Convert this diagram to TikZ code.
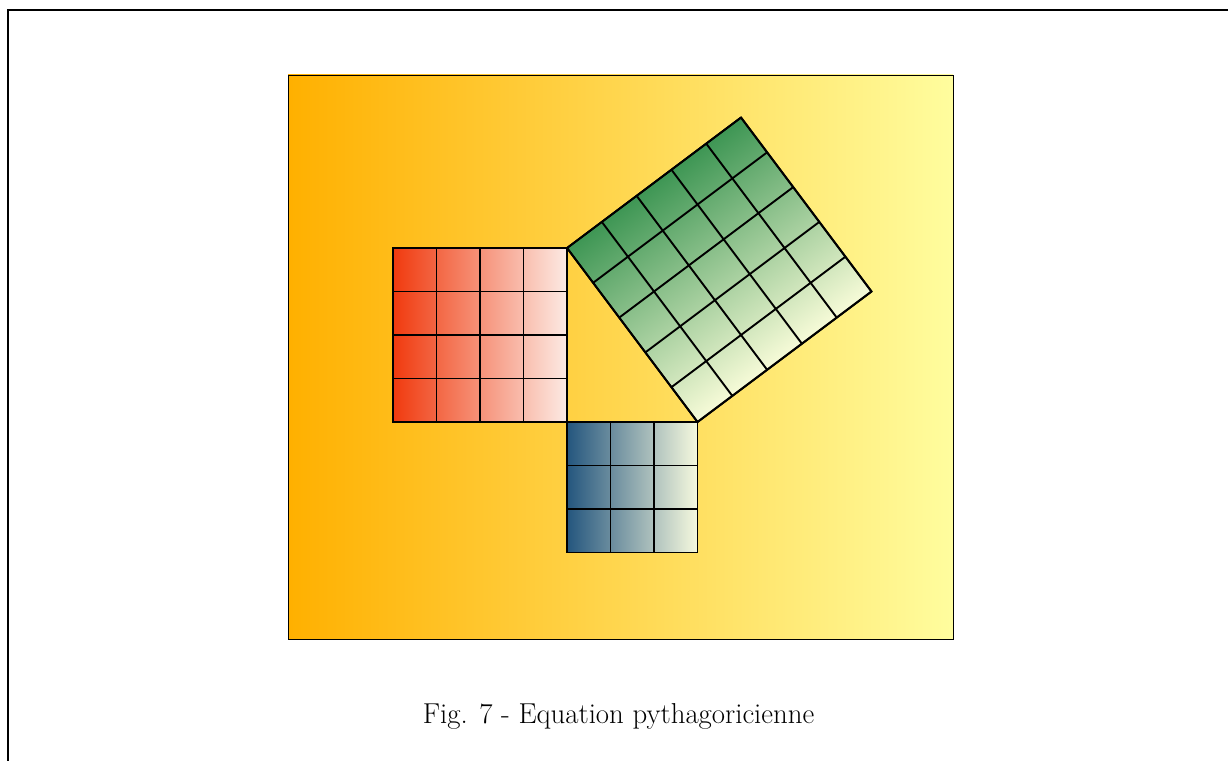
\documentclass[tikz,border=0pt]{standalone}
\begin{document}
\begin{tikzpicture}[x=1pt,y=1pt,
  gridline/.style={line width=1.9pt,black},
  sqborder/.style={line width=1.9pt,black}]
\definecolor{bgL}{RGB}{255,176,0}
\definecolor{bgR}{RGB}{255,253,158}
\definecolor{redL}{RGB}{240,58,14}
\definecolor{redR}{RGB}{252,234,228}
\definecolor{blueL}{RGB}{36,86,126}
\definecolor{blueR}{RGB}{246,249,222}
\definecolor{greenD}{RGB}{62,150,84}
\definecolor{greenP}{RGB}{247,251,216}
\def\c{43.5}
\useasboundingbox (0,0) rectangle (1228,760);
% outer frame
\draw[line width=2pt,black] (8.3,-5) -- (8.3,750) -- (1235,750);
% background
\shade[left color=bgL,right color=bgR,draw=black,line width=0.6pt] (288,121) rectangle (953,685);
% vertices of the triangle
\coordinate (B) at (567,338);
\coordinate (A) at (567,512);
\coordinate (C) at (697.5,338);
% red square (4x4)
\begin{scope}[shift={(393,338)}]
\shade[left color=redL,right color=redR] (0,0) rectangle (174,174);
\draw[gridline,step=\c] (0,0) grid (174,174);
\draw[sqborder] (0,0) rectangle (174,174);
\end{scope}
% blue square (3x3)
\begin{scope}[shift={(567,207.5)}]
\shade[left color=blueL,right color=blueR] (0,0) rectangle (130.5,130.5);
\draw[gridline,step=\c] (0,0) grid (130.5,130.5);
\draw[sqborder] (0,0) rectangle (130.5,130.5);
\end{scope}
% green square (5x5) on hypotenuse
\begin{scope}[transform canvas={shift={(C)},rotate=36.8699}]
\shade[top color=greenD,bottom color=greenP] (0,0) rectangle (217.5,217.5);
\draw[gridline,step=\c] (0,0) grid (217.5,217.5);
\draw[sqborder] (0,0) rectangle (217.5,217.5);
\end{scope}
% caption
\node[anchor=base,font=\fontsize{28.8}{34}\selectfont,inner sep=0pt] (cap) at (618.5,37) {Fig. 7 - Equation pythagoricienne};
\end{tikzpicture}
\end{document}
